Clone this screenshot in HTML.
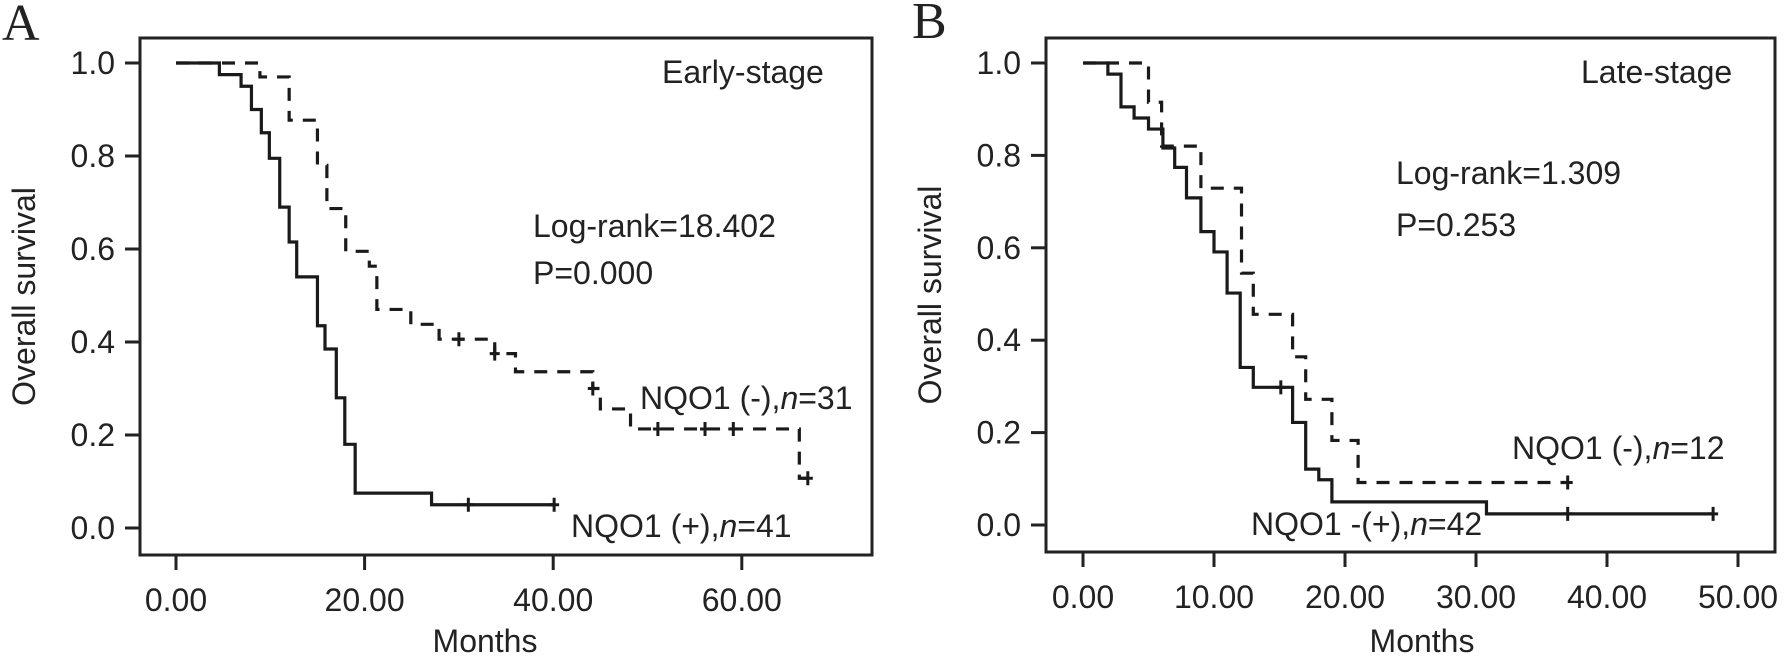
<!DOCTYPE html>
<html><head><meta charset="utf-8"><style>
html,body{margin:0;padding:0;background:#fff;}
svg text{font-family:"Liberation Sans",Arial,sans-serif;fill:#222;}
</style></head><body>
<svg id="chart" width="1790" height="667" viewBox="0 0 1790 667" xmlns="http://www.w3.org/2000/svg"></svg>
<script>
// Panel A data (Early-stage)
const aPosTimes = [0, 4.6, 6.9, 8.0, 9.05, 9.9, 11.0, 12.0, 12.8, 15.0, 15.8, 17.0, 17.9, 19.0, 27.1, 40.1];
const aPosSurv  = [1.0, 0.975, 0.95, 0.90, 0.85, 0.795, 0.69, 0.615, 0.54, 0.435, 0.385, 0.28, 0.18, 0.075, 0.05, 0.05];
const aPosCens  = [31.0, 40.1];
const aNegTimes = [0, 8.9, 12.0, 15.0, 16.0, 18.0, 20.5, 21.3, 24.9, 27.9, 33.8, 36.0, 44.2, 45.0, 48.2, 66.1, 67.0];
const aNegSurv  = [1.0, 0.97, 0.877, 0.78, 0.687, 0.595, 0.563, 0.47, 0.438, 0.406, 0.375, 0.336, 0.30, 0.256, 0.213, 0.107, 0.107];
const aNegCens  = [30.0, 33.8, 44.2, 51.1, 56.1, 59.1, 67.0];
const aXTicks = [0, 20, 40, 60];
const aXLabels = ["0.00", "20.00", "40.00", "60.00"];
// Panel B data (Late-stage)
const bPosTimes = [0, 1.9, 2.9, 3.9, 5.0, 6.1, 7.0, 7.9, 9.0, 10.0, 11.0, 12.0, 13.0, 16.0, 17.0, 18.0, 19.0, 30.8, 48.1];
const bPosSurv  = [1.0, 0.976, 0.905, 0.881, 0.857, 0.816, 0.774, 0.708, 0.635, 0.591, 0.502, 0.341, 0.298, 0.222, 0.121, 0.098, 0.05, 0.024, 0.024];
const bPosCens  = [15.1, 37.0, 48.1];
const bNegTimes = [0, 5.0, 6.0, 9.0, 12.1, 13.0, 16.0, 17.0, 19.0, 21.0, 37.0];
const bNegSurv  = [1.0, 0.915, 0.82, 0.729, 0.545, 0.456, 0.364, 0.272, 0.183, 0.092, 0.092];
const bNegCens  = [37.0];
const bXTicks = [0, 10, 20, 30, 40, 50];
const bXLabels = ["0.00", "10.00", "20.00", "30.00", "40.00", "50.00"];
const yTicks = [0, 0.2, 0.4, 0.6, 0.8, 1.0];
const yLabels = ["0.0", "0.2", "0.4", "0.6", "0.8", "1.0"];

const NS = "http://www.w3.org/2000/svg";
const svg = document.getElementById('chart');
function mk(tag, attrs, parent, txt){
  const e = document.createElementNS(NS, tag);
  for (const k in attrs) e.setAttribute(k, attrs[k]);
  if (txt !== undefined) e.textContent = txt;
  (parent || svg).appendChild(e);
  return e;
}

function panel(cfg){
  const g = mk('g', {});
  
  
  const X = t => cfg.x0 + t * cfg.px;
  const Y = s => cfg.y0 - s * (cfg.y0 - cfg.y1);
  const frame = mk('rect', {x: cfg.L, y: cfg.T, width: cfg.R - cfg.L, height: cfg.B - cfg.T, fill: 'none', stroke: '#222', 'stroke-width': 3}, g);
  
  
  yTicks.forEach((v, i) => {
    mk('line', {x1: cfg.L - 15, x2: cfg.L, y1: Y(v), y2: Y(v), stroke: '#222', 'stroke-width': 3}, g);
    const t = mk('text', {x: cfg.L - 25, y: Y(v) + 11, 'font-size': 32, 'text-anchor': 'end'}, g, yLabels[i]);
    
    
  });
  cfg.xt.forEach((v, i) => {
    mk('line', {x1: X(v), x2: X(v), y1: cfg.B, y2: cfg.B + 15, stroke: '#222', 'stroke-width': 3}, g);
    const t = mk('text', {x: X(v), y: cfg.B + 56, 'font-size': 32, 'text-anchor': 'middle'}, g, cfg.xl[i]);
    
    
  });
  const xt = mk('text', {x: cfg.mx, y: 652, 'font-size': 32, 'text-anchor': 'middle'}, g, 'Months');
  
  
  const yt = mk('text', {x: 0, y: 0, 'font-size': 32, 'text-anchor': 'middle', transform: `translate(${cfg.yx},${(cfg.T + cfg.B) / 2}) rotate(-90)`}, g, 'Overall survival');
  
  
  function curve(times, surv, cens, dashed, nm){
    let d = `M${X(times[0])},${Y(surv[0])}`;
    for (let i = 1; i < times.length; i++){
      d += ` H${X(times[i])} V${Y(surv[i])}`;
    }
    const p = mk('path', {d: d, fill: 'none', stroke: '#1a1a1a', 'stroke-width': 3.2, 'stroke-dasharray': dashed ? '13 10' : 'none'}, g);
    
    
    cens.forEach(c => {
      let s = surv[0];
      for (let i = 0; i < times.length; i++) if (times[i] <= c) s = surv[i];
      const m = mk('path', {d: `M${X(c)},${Y(s) - 7} V${Y(s) + 7} M${X(c) - 5},${Y(s)} H${X(c) + 5}`, stroke: '#1a1a1a', 'stroke-width': 3, fill: 'none'}, g);
      
      
    });
  }
  curve(cfg.pt, cfg.ps, cfg.pc, false, 'nqo1-positive-curve');
  curve(cfg.nt, cfg.ns, cfg.nc, true, 'nqo1-negative-curve');
  cfg.texts.forEach(tx => {
    const t = mk('text', {x: tx[0], y: tx[1], 'font-size': 32}, g);
    t.innerHTML = tx[2];
    
    
  });
  const lt = mk('text', {x: cfg.lx, y: cfg.ly, 'font-size': 52, style: 'font-family:"Liberation Serif",serif'}, g, cfg.letter);
  
  
}

panel({name: 'panel-a-early-stage', L: 140, R: 872, T: 38, B: 555, x0: 176, px: 9.43, y0: 528, y1: 63,
  xt: aXTicks, xl: aXLabels, mx: 485, yx: 35, lx: 2, ly: 40, letter: 'A',
  pt: aPosTimes, ps: aPosSurv, pc: aPosCens, nt: aNegTimes, ns: aNegSurv, nc: aNegCens,
  texts: [[662, 83, 'Early-stage', 'stage-label'], [533, 237, 'Log-rank=18.402', 'log-rank-stat'], [533, 284, 'P=0.000', 'p-value'],
          [640, 409, 'NQO1 (-),<tspan font-style="italic">n</tspan>=31', 'neg-curve-label'], [571, 537, 'NQO1 (+),<tspan font-style="italic">n</tspan>=41', 'pos-curve-label']]});
panel({name: 'panel-b-late-stage', L: 1046, R: 1775, T: 38, B: 552, x0: 1083, px: 13.1, y0: 525, y1: 63,
  xt: bXTicks, xl: bXLabels, mx: 1422, yx: 941, lx: 912, ly: 38, letter: 'B',
  pt: bPosTimes, ps: bPosSurv, pc: bPosCens, nt: bNegTimes, ns: bNegSurv, nc: bNegCens,
  texts: [[1581, 83, 'Late-stage', 'stage-label'], [1396, 184, 'Log-rank=1.309', 'log-rank-stat'], [1396, 236, 'P=0.253', 'p-value'],
          [1512, 459, 'NQO1 (-),<tspan font-style="italic">n</tspan>=12', 'neg-curve-label'], [1251, 535, 'NQO1 -(+),<tspan font-style="italic">n</tspan>=42', 'pos-curve-label']]});
</script>
</body></html>
